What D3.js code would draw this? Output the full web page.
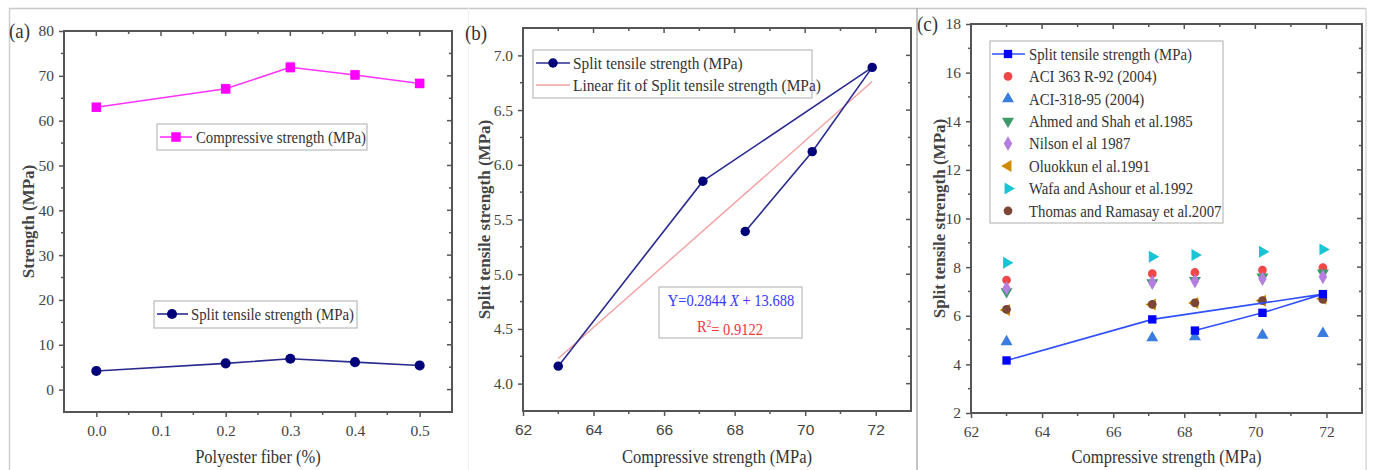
<!DOCTYPE html>
<html>
<head>
<meta charset="utf-8">
<script src="https://cdn.jsdelivr.net/npm/d3@7"></script>
<style>
  html, body { margin: 0; padding: 0; background: #fff; }
  svg { display: block; }
</style>
</head>
<body>
<svg width="1373" height="470"></svg>
<script>
// ---- data ----
const fiber = [0.0, 0.2, 0.3, 0.4, 0.5];
const compressive = [63.0, 67.1, 71.9, 70.2, 68.3];
const compressiveErr = [0.8, 1.0, 1.1, 1.0, 0.9];
const splitTensile = [4.16, 5.85, 6.89, 6.12, 5.39];
const splitErr = [0.4, 0.4, 0.5, 0.4, 0.4];

const fitSlope = 0.2844;
const fitIntercept = -13.688;
const fitText = 'Y=0.2844 ';
const fitText2 = ' + 13.688';
const r2Text = '= 0.9122';

// code predictions, listed by rising compressive strength
const compSorted = [63.0, 67.1, 68.3, 70.2, 71.9];
const aci363 = [7.47, 7.73, 7.78, 7.88, 7.98];
const aci318 = [4.93, 5.09, 5.13, 5.20, 5.27];
const ahmedShah = [6.99, 7.36, 7.45, 7.60, 7.76];
const nilson = [7.13, 7.37, 7.43, 7.52, 7.60];
const oluokkun = [6.24, 6.46, 6.52, 6.62, 6.70];
const wafa = [8.18, 8.43, 8.50, 8.63, 8.73];
const thomas = [6.26, 6.47, 6.53, 6.62, 6.67];

const xTicksA = [0.0, 0.1, 0.2, 0.3, 0.4, 0.5];
const yTicksA = [0, 10, 20, 30, 40, 50, 60, 70, 80];
const xTicksBC = [62, 64, 66, 68, 70, 72];
const yTicksB = [4.0, 4.5, 5.0, 5.5, 6.0, 6.5, 7.0];
const yTicksC = [2, 4, 6, 8, 10, 12, 14, 16, 18];

const SERIF = '"Liberation Serif", "Times New Roman", "DejaVu Serif", serif';
const SANS = '"Liberation Sans", Arial, sans-serif';

const svg = d3.select('svg');

// outer panel frames
const frame = svg.append('g').attr('fill', 'none');
frame.append('line').attr('x1', 9).attr('x2', 1366).attr('y1', 8.5).attr('y2', 8.5).attr('stroke', '#c8c8c8').attr('stroke-width', 1.5);
frame.append('line').attr('x1', 9.5).attr('x2', 9.5).attr('y1', 8).attr('y2', 470).attr('stroke', '#d0d0d0').attr('stroke-width', 1.5);
frame.append('line').attr('x1', 468.5).attr('x2', 468.5).attr('y1', 8).attr('y2', 470).attr('stroke', '#f0f0f0');
frame.append('line').attr('x1', 917).attr('x2', 917).attr('y1', 8).attr('y2', 470).attr('stroke', '#b0b0b0').attr('stroke-width', 1.5);
frame.append('line').attr('x1', 1366).attr('x2', 1366).attr('y1', 8).attr('y2', 470).attr('stroke', '#d8d8d8').attr('stroke-width', 1.5);

function drawAxes(box, x, y, xt, yt, xMinor, yMinor, xFmt, yFmt, xFont) {
  const g = svg.append('g');
  const bottom = g.append('g')
    .attr('transform', `translate(0,${box.bottom})`)
    .call(d3.axisBottom(x).tickValues(xt).tickFormat(xFmt).tickSize(5).tickPadding(8));
  const left = g.append('g')
    .attr('transform', `translate(${box.left},0)`)
    .call(d3.axisLeft(y).tickValues(yt).tickFormat(yFmt).tickSize(5).tickPadding(5));
  [bottom, left].forEach(a => {
    a.select('.domain').remove();
    a.selectAll('line').attr('stroke', '#555').attr('stroke-width', 1.5);
    a.attr('font-family', SERIF);
  });
  bottom.selectAll('text').attr('font-size', 15.5).attr('fill', '#444').attr('font-family', xFont || SERIF);
  left.selectAll('text').attr('font-size', 15.5).attr('fill', '#444').attr('font-family', SERIF);
  const tk = (x1, x2, y1, y2) => g.append('line').attr('x1', x1).attr('x2', x2).attr('y1', y1).attr('y2', y2).attr('stroke', '#555').attr('stroke-width', 1.5);
  // minor ticks
  xMinor.forEach(v => {
    tk(x(v), x(v), box.bottom, box.bottom + 3);
    tk(x(v), x(v), box.top, box.top + 3);
  });
  yMinor.forEach(v => {
    tk(box.left, box.left - 3, y(v), y(v));
    tk(box.right, box.right - 3, y(v), y(v));
  });
  xt.forEach(v => tk(x(v), x(v), box.top, box.top + 5));
  yt.forEach(v => tk(box.right, box.right - 5, y(v), y(v)));
  g.append('rect')
    .attr('x', box.left).attr('y', box.top)
    .attr('width', box.right - box.left).attr('height', box.bottom - box.top)
    .attr('fill', 'none').attr('stroke', '#555').attr('stroke-width', 2);
  return g;
}

// condensed text: the source figure is squeezed horizontally
function txt(x, y, size, color, s, sx) {
  return svg.append('text')
    .attr('transform', `translate(${x},${y}) scale(${sx || 0.88},1)`)
    .attr('dy', '0.35em')
    .attr('font-family', SERIF).attr('font-size', size).attr('fill', color).text(s);
}

function axisTitles(box, xTitle, yTitle, yTitleX, panel, panelX, panelY) {
  txt((box.left + box.right) / 2, 456, 19, '#333', xTitle, 0.87).attr('text-anchor', 'middle');
  svg.append('text')
    .attr('transform', `translate(${yTitleX},${(box.top + box.bottom) / 2}) rotate(-90)`)
    .attr('text-anchor', 'middle').attr('dy', '0.35em')
    .attr('font-family', SERIF).attr('font-size', 17).attr('font-weight', 'bold').attr('fill', '#444')
    .text(yTitle);
  txt(panelX, panelY, 20, '#333', panel, 0.95);
}

const sym = (type, size, rot) => ({ p: d3.symbol().type(type).size(size)(), rot: rot || 0 });

function marker(g, cx, cy, s, color) {
  g.append('path')
    .attr('d', s.p)
    .attr('transform', `translate(${cx},${cy}) rotate(${s.rot})`)
    .attr('fill', color);
}

function legendBox(x, y, w, h) {
  svg.append('rect').attr('x', x).attr('y', y).attr('width', w).attr('height', h)
    .attr('fill', '#fff').attr('stroke', '#bbb').attr('stroke-width', 1.2);
}

// ---------------- Panel (a) ----------------
const boxA = { left: 64, right: 452, top: 31, bottom: 412 };
const xA = d3.scaleLinear().domain([-0.05, 0.55]).range([boxA.left, boxA.right]);
const yA = d3.scaleLinear().domain([-5, 80]).range([boxA.bottom, boxA.top]);
drawAxes(boxA, xA, yA, xTicksA, yTicksA, [0.05, 0.15, 0.25, 0.35, 0.45], [5, 15, 25, 35, 45, 55, 65, 75], d3.format('.1f'), d3.format('d'));
axisTitles(boxA, 'Polyester fiber (%)', 'Strength (MPa)', 28, '(a)', 9, 31);

const gA = svg.append('g');
const lineA = vals => d3.line().x((d, i) => xA(fiber[i])).y(d => yA(d))(vals);

function errBars(g, vals, errs, color) {
  vals.forEach((v, i) => {
    const cx = xA(fiber[i]);
    g.append('line').attr('x1', cx).attr('x2', cx).attr('y1', yA(v - errs[i])).attr('y2', yA(v + errs[i])).attr('stroke', color).attr('stroke-width', 1.2);
    [v - errs[i], v + errs[i]].forEach(e => {
      g.append('line').attr('x1', cx - 4).attr('x2', cx + 4).attr('y1', yA(e)).attr('y2', yA(e)).attr('stroke', color).attr('stroke-width', 1.2);
    });
  });
}
errBars(gA, compressive, compressiveErr, '#ff99ff');
errBars(gA, splitTensile, splitErr, '#8888cc');
gA.append('path').attr('d', lineA(compressive)).attr('fill', 'none').attr('stroke', '#ff33ff').attr('stroke-width', 1.6);
gA.append('path').attr('d', lineA(splitTensile)).attr('fill', 'none').attr('stroke', '#2b2b8f').attr('stroke-width', 1.6);
const sqA = sym(d3.symbolSquare, 90);
const ciA = sym(d3.symbolCircle, 80);
compressive.forEach((v, i) => marker(gA, xA(fiber[i]), yA(v), sqA, '#ff00ff'));
splitTensile.forEach((v, i) => marker(gA, xA(fiber[i]), yA(v), ciA, '#00007a'));

legendBox(157, 124, 210, 26);
svg.append('line').attr('x1', 160).attr('x2', 192).attr('y1', 137).attr('y2', 137).attr('stroke', '#ff33ff').attr('stroke-width', 1.6);
marker(svg, 176, 137, sqA, '#ff00ff');
txt(196, 137, 16.8, '#333', 'Compressive strength (MPa)');

legendBox(154, 301, 203, 27);
svg.append('line').attr('x1', 157).attr('x2', 188).attr('y1', 314).attr('y2', 314).attr('stroke', '#2b2b8f').attr('stroke-width', 1.6);
marker(svg, 172, 314, ciA, '#00007a');
txt(191, 314, 16.8, '#333', 'Split tensile strength (MPa)');

// ---------------- Panel (b) ----------------
const boxB = { left: 523, right: 911, top: 28, bottom: 411 };
const xB = d3.scaleLinear().domain([62, 73]).range([boxB.left, boxB.right]);
const yB = d3.scaleLinear().domain([3.75, 7.25]).range([boxB.bottom, boxB.top]);
drawAxes(boxB, xB, yB, xTicksBC, yTicksB, [63, 65, 67, 69, 71], [4.25, 4.75, 5.25, 5.75, 6.25, 6.75], d3.format('d'), d3.format('.1f'), SANS);
axisTitles(boxB, 'Compressive strength (MPa)', 'Split tensile strength (MPa)', 484, '(b)', 465, 33);

const gB = svg.append('g');
const fitX = [compressive[0], compressive[2]];
gB.append('path')
  .attr('d', d3.line().x(d => xB(d)).y(d => yB(fitSlope * d + fitIntercept))(fitX))
  .attr('fill', 'none').attr('stroke', '#f4a0a0').attr('stroke-width', 1.4);
gB.append('path')
  .attr('d', d3.line().x((d, i) => xB(compressive[i])).y(d => yB(d))(splitTensile))
  .attr('fill', 'none').attr('stroke', '#2b2b8f').attr('stroke-width', 1.6);
const ciB = sym(d3.symbolCircle, 70);
splitTensile.forEach((v, i) => marker(gB, xB(compressive[i]), yB(v), ciB, '#00007a'));

legendBox(533, 50, 279, 48);
svg.append('line').attr('x1', 536).attr('x2', 570).attr('y1', 63).attr('y2', 63).attr('stroke', '#2b2b8f').attr('stroke-width', 1.6);
marker(svg, 553, 63, ciB, '#00007a');
txt(573, 63, 17.5, '#333', 'Split tensile strength (MPa)');
svg.append('line').attr('x1', 536).attr('x2', 570).attr('y1', 85).attr('y2', 85).attr('stroke', '#f4a0a0').attr('stroke-width', 1.4);
txt(573, 85, 17.5, '#333', 'Linear fit of Split tensile strength (MPa)');

legendBox(659, 287, 143, 51);
const eq = txt(731, 300, 17.5, '#3838ff', null, 0.83).attr('text-anchor', 'middle');
eq.append('tspan').text(fitText);
eq.append('tspan').attr('font-style', 'italic').text('X');
eq.append('tspan').text(fitText2);
const r2 = txt(730, 326, 17.5, '#f03838', null, 0.83).attr('text-anchor', 'middle');
r2.append('tspan').text('R');
r2.append('tspan').attr('dy', '-0.45em').attr('font-size', 11).text('2');
r2.append('tspan').attr('dy', '0.45em').text(r2Text);

// ---------------- Panel (c) ----------------
const boxC = { left: 971, right: 1362, top: 24, bottom: 413 };
const xC = d3.scaleLinear().domain([62, 73]).range([boxC.left, boxC.right]);
const yC = d3.scaleLinear().domain([2, 18]).range([boxC.bottom, boxC.top]);
drawAxes(boxC, xC, yC, xTicksBC, yTicksC, [63, 65, 67, 69, 71], [3, 5, 7, 9, 11, 13, 15, 17], d3.format('d'), d3.format('d'));
axisTitles(boxC, 'Compressive strength (MPa)', 'Split tensile strength (MPa)', 939, '(c)', 917, 24);

const series = [
  { name: 'ACI 363 R-92 (2004)', vals: aci363, color: '#f04848', s: sym(d3.symbolCircle, 60) },
  { name: 'ACI-318-95 (2004)', vals: aci318, color: '#3a7de0', s: sym(d3.symbolTriangle, 62) },
  { name: 'Ahmed and Shah et al.1985', vals: ahmedShah, color: '#3a9a6a', s: sym(d3.symbolTriangle, 62, 180) },
  { name: 'Nilson el al 1987', vals: nilson, color: '#b57ee0', s: sym(d3.symbolDiamond, 62) },
  { name: 'Oluokkun el al.1991', vals: oluokkun, color: '#d08a00', s: sym(d3.symbolTriangle, 62, -90) },
  { name: 'Wafa and Ashour et al.1992', vals: wafa, color: '#19c4d4', s: sym(d3.symbolTriangle, 62, 90) },
  { name: 'Thomas and Ramasay et al.2007', vals: thomas, color: '#7a4636', s: sym(d3.symbolCircle, 60) }
];

const gC = svg.append('g');
series.forEach(se => {
  se.vals.forEach((v, i) => marker(gC, xC(compSorted[i]), yC(v), se.s, se.color));
});
gC.append('path')
  .attr('d', d3.line().x((d, i) => xC(compressive[i])).y(d => yC(d))(splitTensile))
  .attr('fill', 'none').attr('stroke', '#3050ff').attr('stroke-width', 1.6);
const sqC = sym(d3.symbolSquare, 70);
splitTensile.forEach((v, i) => marker(gC, xC(compressive[i]), yC(v), sqC, '#0000ff'));

legendBox(990, 41, 233, 182);
const rowY = i => 54 + i * 22.4;
svg.append('line').attr('x1', 992).attr('x2', 1025).attr('y1', rowY(0)).attr('y2', rowY(0)).attr('stroke', '#3050ff').attr('stroke-width', 1.6);
marker(svg, 1008, rowY(0), sqC, '#0000ff');
txt(1029, rowY(0), 16.8, '#333', 'Split tensile strength (MPa)');
series.forEach((se, k) => {
  marker(svg, 1008, rowY(k + 1), se.s, se.color);
  txt(1029, rowY(k + 1), 16.8, '#333', se.name);
});
</script>
</body>
</html>
